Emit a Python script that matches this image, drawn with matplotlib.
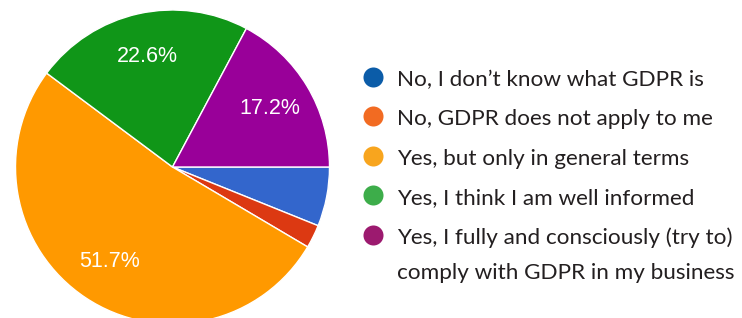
import matplotlib.pyplot as plt

# dati
etichette = [
    "No, I don\u2019t know what GDPR is",
    "No, GDPR does not apply to me",
    "Yes, but only in general terms",
    "Yes, I think I am well informed",
    "Yes, I fully and consciously (try to)\ncomply with GDPR in my business",
]
valori = [6.1, 2.4, 51.7, 22.6, 17.2]
colori_torta = ["#3366CC", "#DC3912", "#FF9900", "#109618", "#990099"]
colori_legenda = ["#0B5CA8", "#F26B22", "#F8A51E", "#3DAD4A", "#9C1A6F"]

W, H = 742, 318
fig = plt.figure(figsize=(W / 100, H / 100), dpi=100)

# torta: centro (172.5, 167) px, raggio 157 px
cx, cy, r = 172.5, 167, 157
ax = fig.add_axes([(cx - r) / W, (H - cy - r) / H, 2 * r / W, 2 * r / H])


def formato(p):
    return f"{p:.1f}%" if p > 10 else ""


wedges, testi, autotesti = ax.pie(
    valori, colors=colori_torta, startangle=0, counterclock=False,
    autopct=formato, pctdistance=0.72, radius=1,
    wedgeprops=dict(edgecolor="white", linewidth=1),
    textprops=dict(color="white", fontsize=15.5, family="Liberation Sans"),
)
ax.set_xlim(-1, 1)
ax.set_ylim(-1, 1)
ax.axis("off")

# legenda a mano, su un asse in pixel
leg = fig.add_axes([0, 0, 1, 1], zorder=-1)
leg.set_xlim(0, W)
leg.set_ylim(H, 0)
leg.axis("off")

marker_x = 372.7
testo_x = 397
y0 = 77
passo = 39.4
for i, (lab, col) in enumerate(zip(etichette, colori_legenda)):
    yc = y0 + i * passo
    leg.scatter([marker_x], [yc], s=20 ** 2 * 0.52, color=col, linewidths=0)
    for j, riga in enumerate(lab.split("\n")):
        leg.text(testo_x, yc + 9 + j * 35, riga, fontsize=16.2, family="Lato",
                 color="#231F20", va="baseline", ha="left")

fig.savefig("out.png", dpi=100)
